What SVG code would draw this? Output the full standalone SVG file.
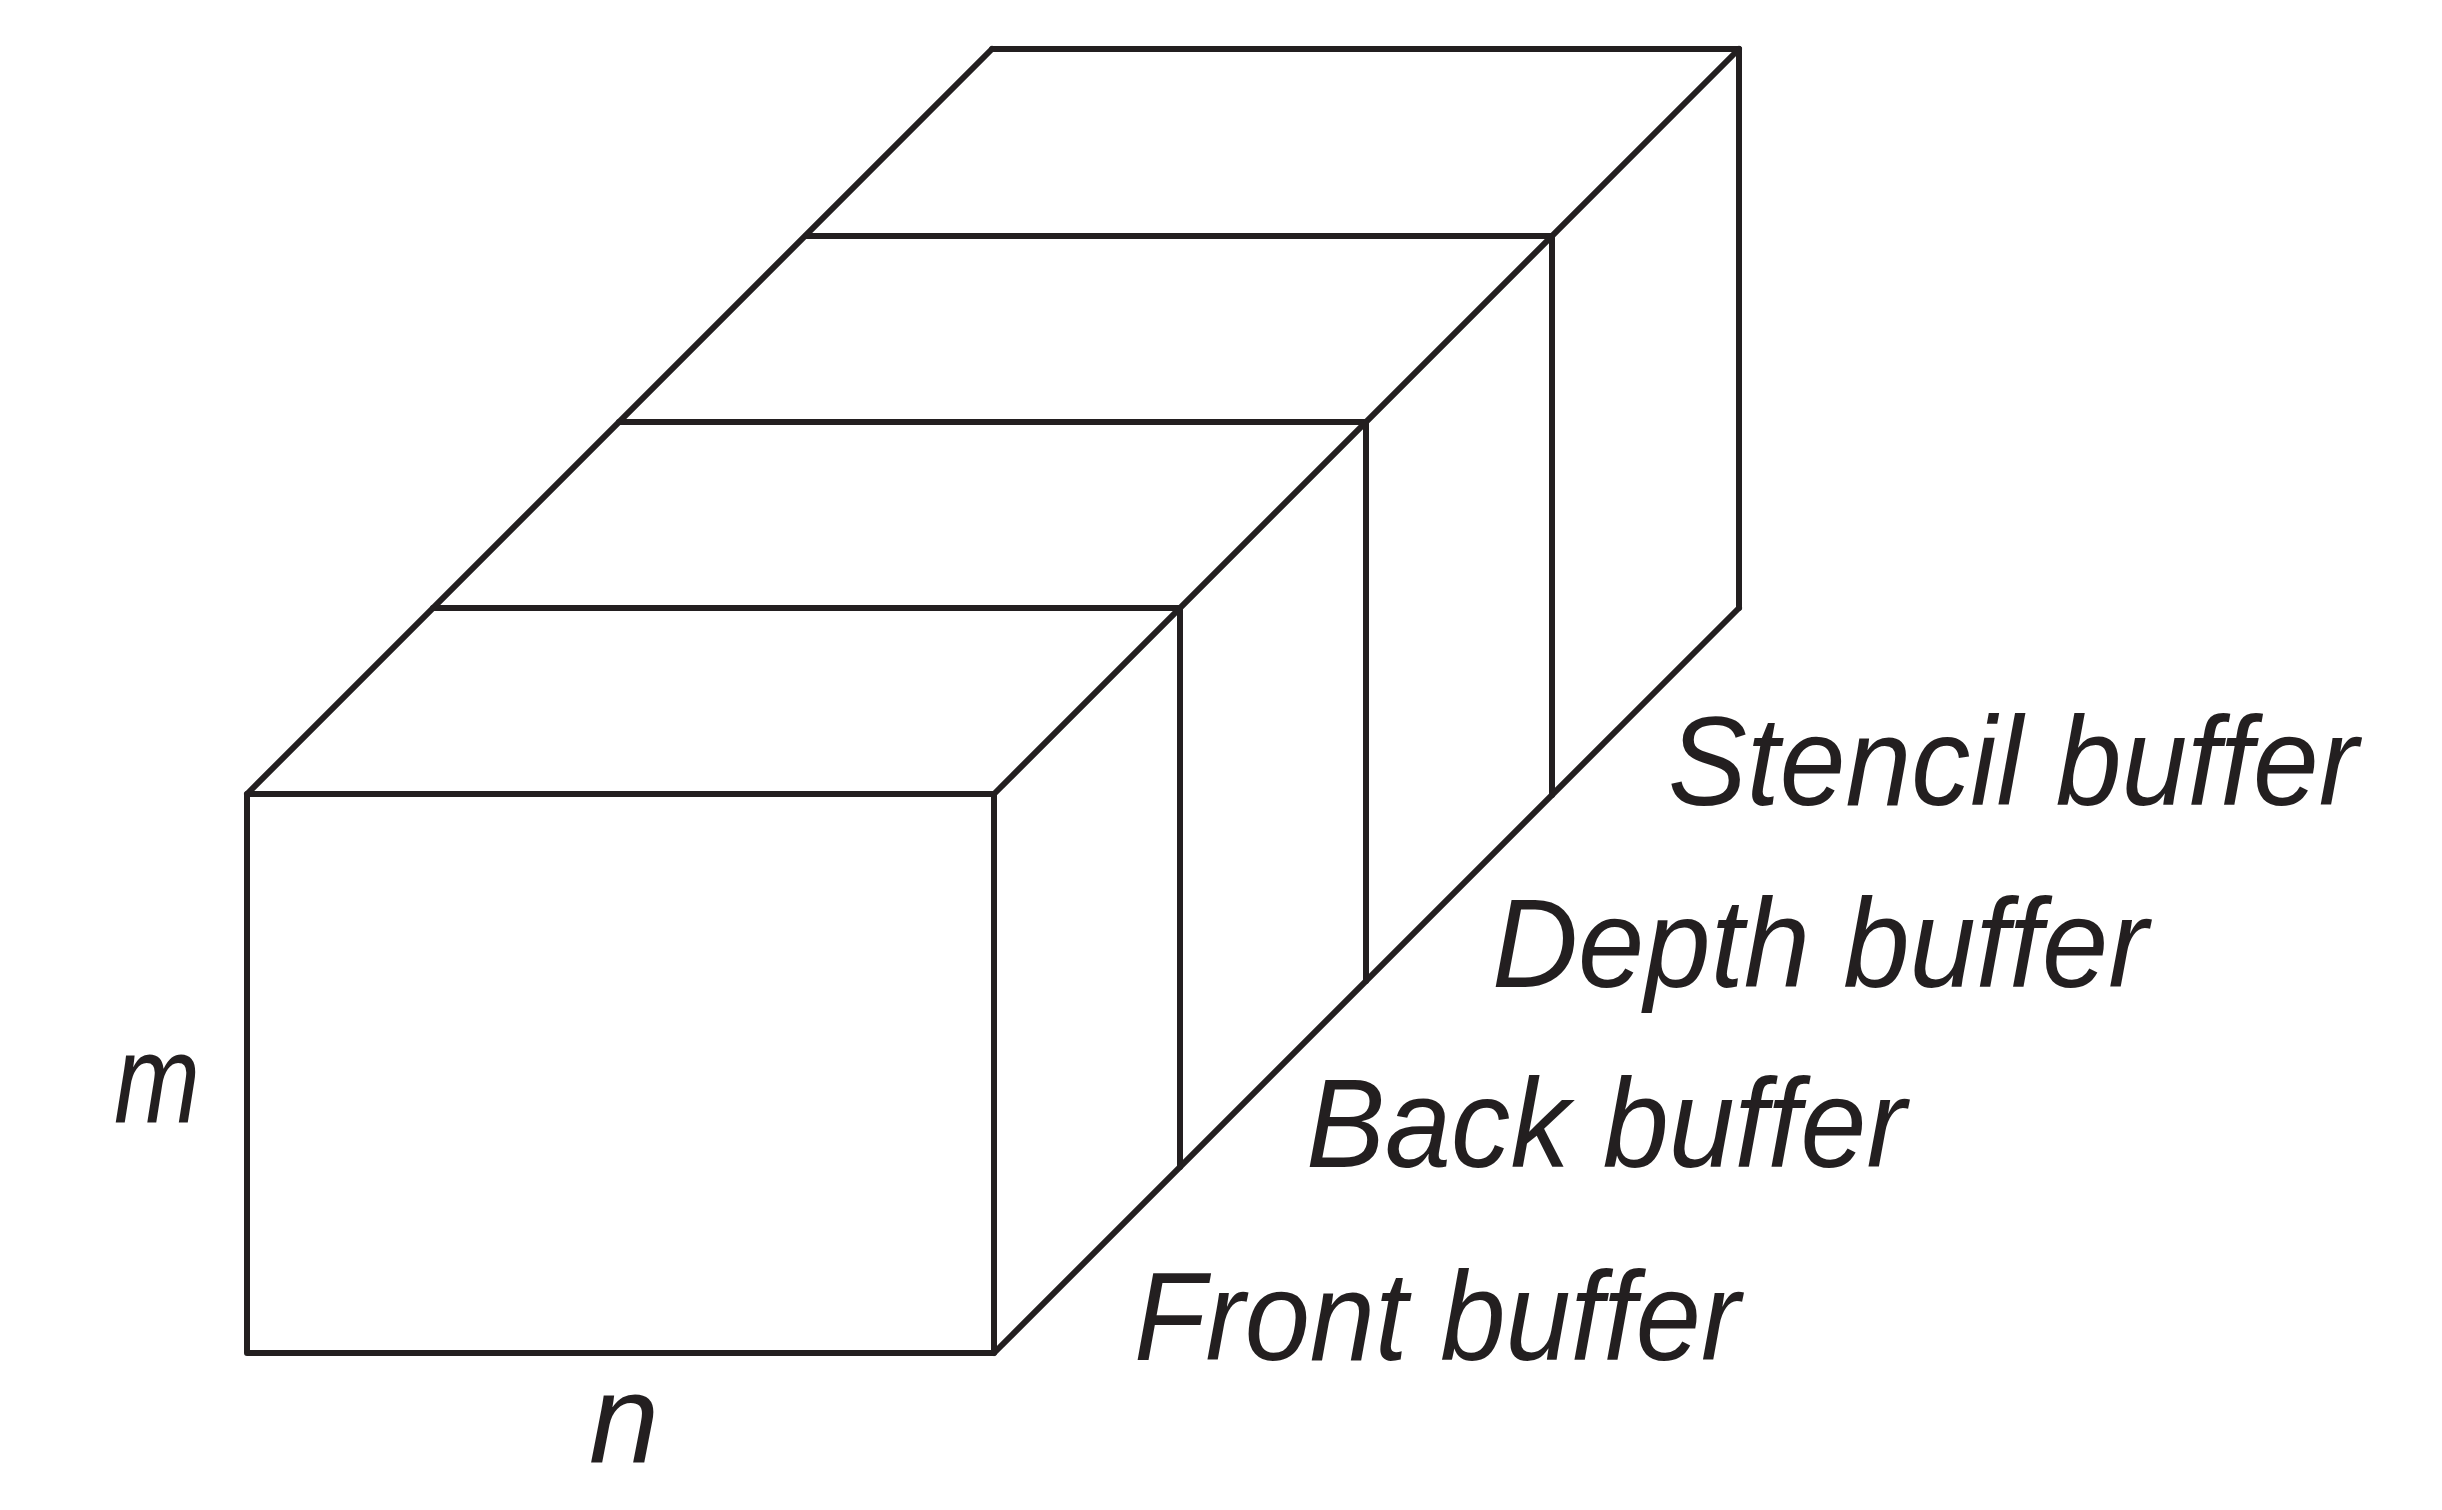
<svg xmlns="http://www.w3.org/2000/svg" width="2442" height="1510" viewBox="0 0 2442 1510">
<style>
.e{fill:none;stroke:#231f20;stroke-width:6;stroke-linejoin:round;stroke-linecap:round}
.t{font-family:"Liberation Sans",Arial,sans-serif;font-style:italic;font-size:126px;fill:#231f20}
</style>
<rect width="2442" height="1510" fill="#fff"/>
<g id="connectors">
<line class="e" x1="247" y1="794" x2="992" y2="49"/>
<line class="e" x1="994" y1="794" x2="1739" y2="49"/>
<line class="e" x1="994" y1="1353" x2="1739" y2="608"/>
</g>
<g id="front-buffer">
<rect class="e" x="247" y="794" width="747" height="559"/>
</g>
<g id="back-buffer">
<line class="e" x1="433" y1="608" x2="1180" y2="608"/>
<line class="e" x1="1180" y1="608" x2="1180" y2="1167"/>
</g>
<g id="depth-buffer">
<line class="e" x1="619" y1="422" x2="1366" y2="422"/>
<line class="e" x1="1366" y1="422" x2="1366" y2="981"/>
</g>
<g id="stencil-buffer">
<line class="e" x1="806" y1="236" x2="1552" y2="236"/>
<line class="e" x1="1552" y1="236" x2="1552" y2="795"/>
<line class="e" x1="992" y1="49" x2="1739" y2="49"/>
<line class="e" x1="1739" y1="49" x2="1739" y2="608"/>
</g>
<g id="labels">
<text class="t" x="1134" y="1360" textLength="606" lengthAdjust="spacingAndGlyphs">Front buffer</text>
<text class="t" x="1306" y="1167" textLength="600" lengthAdjust="spacingAndGlyphs">Back buffer</text>
<text class="t" x="1492" y="987" textLength="656" lengthAdjust="spacingAndGlyphs">Depth buffer</text>
<text class="t" x="1668" y="805" textLength="690" lengthAdjust="spacingAndGlyphs">Stencil buffer</text>
<text class="t" x="157" y="1122" text-anchor="middle" textLength="86" lengthAdjust="spacingAndGlyphs">m</text>
<text class="t" x="624" y="1462" text-anchor="middle">n</text>
</g>
</svg>
